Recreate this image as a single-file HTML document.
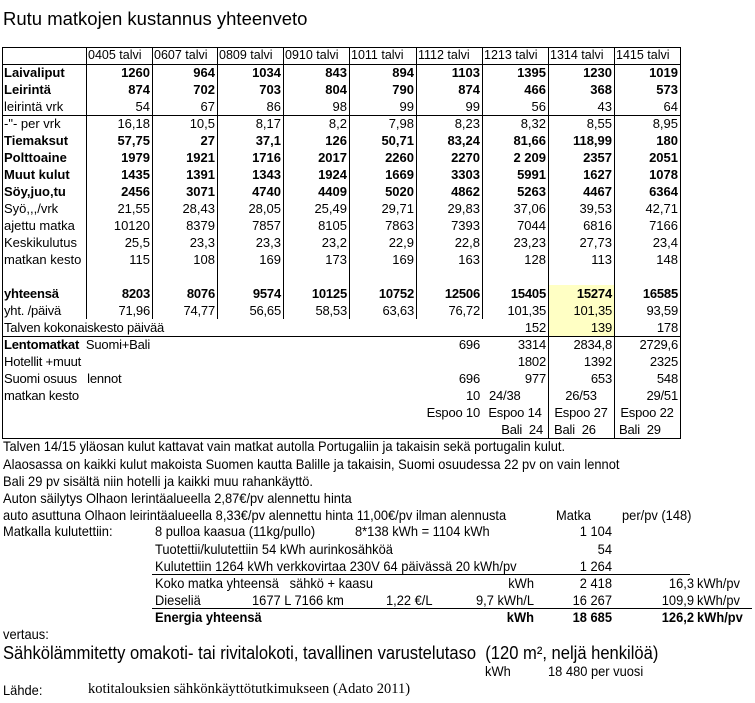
<!DOCTYPE html>
<html><head><meta charset="utf-8">
<style>
*{margin:0;padding:0;box-sizing:border-box}
body{width:755px;height:703px;background:#fff;position:relative;overflow:hidden;font-family:"Liberation Sans",Arial,sans-serif;color:#000}
.t{position:absolute;white-space:nowrap;line-height:17px;height:17px}
.n{font-size:14px;transform:scaleX(0.92);transform-origin:left center}
.r{transform-origin:right center}
table{position:absolute;left:2px;top:47px;border-collapse:collapse;table-layout:fixed;width:678px;font-size:13px}
td{height:17px;line-height:17px;padding:0 2px 0 2px;text-align:right;white-space:nowrap;overflow:visible}
td:first-child{text-align:left}
tr.h td{text-align:left;font-size:12.5px}
tr.b td{font-weight:bold}
tr.m td{font-size:13px;letter-spacing:-0.2px}
.hl{position:absolute;height:1px;background:#000}
.vl{position:absolute;width:1px;background:#000}
</style></head><body>
<div class="t" style="left:3px;top:8px;font-size:18.5px;line-height:22px;height:22px">Rutu matkojen kustannus yhteenveto</div>

<div style="position:absolute;left:549px;top:285px;width:65px;height:51px;background:#ffffc4"></div>

<table>
<colgroup><col style="width:84px"><col style="width:66px"><col style="width:65px"><col style="width:66px"><col style="width:66px"><col style="width:67px"><col style="width:66px"><col style="width:66px"><col style="width:66px"><col style="width:66px"></colgroup>
<tr class="h"><td></td><td>0405 talvi</td><td>0607 talvi</td><td>0809 talvi</td><td>0910 talvi</td><td>1011 talvi</td><td>1112 talvi</td><td>1213 talvi</td><td>1314 talvi</td><td>1415 talvi</td></tr>
<tr class="b"><td>Laivaliput</td><td>1260</td><td>964</td><td>1034</td><td>843</td><td>894</td><td>1103</td><td>1395</td><td>1230</td><td>1019</td></tr>
<tr class="b"><td>Leirintä</td><td>874</td><td>702</td><td>703</td><td>804</td><td>790</td><td>874</td><td>466</td><td>368</td><td>573</td></tr>
<tr><td>leirintä vrk</td><td>54</td><td>67</td><td>86</td><td>98</td><td>99</td><td>99</td><td>56</td><td>43</td><td>64</td></tr>
<tr><td>-"- per vrk</td><td>16,18</td><td>10,5</td><td>8,17</td><td>8,2</td><td>7,98</td><td>8,23</td><td>8,32</td><td>8,55</td><td>8,95</td></tr>
<tr class="b"><td>Tiemaksut</td><td>57,75</td><td>27</td><td>37,1</td><td>126</td><td>50,71</td><td>83,24</td><td>81,66</td><td>118,99</td><td>180</td></tr>
<tr class="b"><td>Polttoaine</td><td>1979</td><td>1921</td><td>1716</td><td>2017</td><td>2260</td><td>2270</td><td>2 209</td><td>2357</td><td>2051</td></tr>
<tr class="b"><td>Muut kulut</td><td>1435</td><td>1391</td><td>1343</td><td>1924</td><td>1669</td><td>3303</td><td>5991</td><td>1627</td><td>1078</td></tr>
<tr class="b"><td>Söy,juo,tu</td><td>2456</td><td>3071</td><td>4740</td><td>4409</td><td>5020</td><td>4862</td><td>5263</td><td>4467</td><td>6364</td></tr>
<tr><td>Syö,,,/vrk</td><td>21,55</td><td>28,43</td><td>28,05</td><td>25,49</td><td>29,71</td><td>29,83</td><td>37,06</td><td>39,53</td><td>42,71</td></tr>
<tr><td>ajettu matka</td><td>10120</td><td>8379</td><td>7857</td><td>8105</td><td>7863</td><td>7393</td><td>7044</td><td>6816</td><td>7166</td></tr>
<tr><td>Keskikulutus</td><td>25,5</td><td>23,3</td><td>23,3</td><td>23,2</td><td>22,9</td><td>22,8</td><td>23,23</td><td>27,73</td><td>23,4</td></tr>
<tr><td>matkan kesto</td><td>115</td><td>108</td><td>169</td><td>173</td><td>169</td><td>163</td><td>128</td><td>113</td><td>148</td></tr>
<tr><td></td><td></td><td></td><td></td><td></td><td></td><td></td><td></td><td></td><td></td></tr>
<tr class="b m"><td>yhteensä</td><td>8203</td><td>8076</td><td>9574</td><td>10125</td><td>10752</td><td>12506</td><td>15405</td><td>15274</td><td>16585</td></tr>
<tr class="m"><td>yht. /päivä</td><td>71,96</td><td>74,77</td><td>56,65</td><td>58,53</td><td>63,63</td><td>76,72</td><td>101,35</td><td>101,35</td><td>93,59</td></tr>
<tr class="m"><td colspan="7">Talven kokonaiskesto päivää</td><td>152</td><td>139</td><td>178</td></tr>
<tr class="m"><td colspan="6"><b>Lentomatkat</b>&nbsp; Suomi+Bali</td><td>696</td><td>3314</td><td>2834,8</td><td>2729,6</td></tr>
<tr class="m"><td colspan="6">Hotellit +muut</td><td></td><td>1802</td><td>1392</td><td>2325</td></tr>
<tr class="m"><td colspan="6">Suomi osuus&nbsp;&nbsp; lennot</td><td>696</td><td>977</td><td>653</td><td>548</td></tr>
<tr class="m"><td colspan="6">matkan kesto</td><td>10</td><td style="text-align:left;padding-left:7px">24/38</td><td style="text-align:center">26/53</td><td>29/51</td></tr>
<tr class="m"><td colspan="6"></td><td>Espoo 10</td><td style="text-align:center">Espoo 14</td><td style="text-align:center">Espoo 27</td><td style="text-align:center">Espoo 22</td></tr>
<tr class="m"><td colspan="6"></td><td></td><td style="padding-right:5px">Bali&nbsp; 24</td><td style="text-align:left;padding-left:6px">Bali&nbsp; 26</td><td style="text-align:left;padding-left:5px">Bali&nbsp; 29</td></tr>
</table>

<div class="hl" style="left:2px;top:47px;width:679px"></div>
<div class="hl" style="left:2px;top:64px;width:679px"></div>
<div class="hl" style="left:2px;top:115px;width:679px"></div>
<div class="hl" style="left:2px;top:336px;width:679px"></div>
<div class="hl" style="left:2px;top:438px;width:679px"></div>
<div class="vl" style="left:2px;top:47px;height:392px"></div>
<div class="vl" style="left:86px;top:47px;height:272px"></div>
<div class="vl" style="left:152px;top:47px;height:272px"></div>
<div class="vl" style="left:217px;top:47px;height:272px"></div>
<div class="vl" style="left:283px;top:47px;height:272px"></div>
<div class="vl" style="left:349px;top:47px;height:272px"></div>
<div class="vl" style="left:416px;top:47px;height:272px"></div>
<div class="vl" style="left:482px;top:47px;height:272px"></div>
<div class="vl" style="left:548px;top:47px;height:392px"></div>
<div class="vl" style="left:614px;top:47px;height:392px"></div>
<div class="vl" style="left:680px;top:47px;height:392px"></div>

<div class="t n" style="left:3px;top:438px">Talven 14/15 yläosan kulut kattavat vain matkat autolla Portugaliin ja takaisin sekä portugalin kulut.</div>
<div class="t n" style="left:3px;top:456px">Alaosassa on kaikki kulut makoista Suomen kautta Balille ja takaisin, Suomi osuudessa 22 pv on vain lennot</div>
<div class="t n" style="left:3px;top:473px">Bali 29 pv sisältä niin hotelli ja kaikki muu rahankäyttö.</div>
<div class="t n" style="left:3px;top:490px">Auton säilytys Olhaon lerintäalueella 2,87€/pv alennettu hinta</div>
<div class="t n" style="left:3px;top:507px">auto asuttuna Olhaon leirintäalueella 8,33€/pv alennettu hinta 11,00€/pv ilman alennusta</div>
<div class="t n" style="left:556px;top:507px">Matka</div>
<div class="t n" style="left:622px;top:507px">per/pv (148)</div>

<div class="t n" style="left:3px;top:523px">Matkalla kulutettiin:</div>
<div class="t n" style="left:155px;top:523px">8 pulloa kaasua (11kg/pullo)</div>
<div class="t n" style="left:355px;top:523px">8*138 kWh = 1104 kWh</div>
<div class="t n r" style="left:540px;top:523px;width:72px;text-align:right">1 104</div>
<div class="t n" style="left:155px;top:541px">Tuotettii/kulutettiin 54 kWh aurinkosähköä</div>
<div class="t n r" style="left:540px;top:541px;width:72px;text-align:right">54</div>
<div class="t n" style="left:155px;top:558px">Kulutettiin 1264 kWh verkkovirtaa 230V 64 päivässä 20 kWh/pv</div>
<div class="t n r" style="left:540px;top:558px;width:72px;text-align:right">1 264</div>
<div class="hl" style="left:152px;top:574px;width:538px"></div>
<div class="t n" style="left:155px;top:575px">Koko matka yhteensä&nbsp;&nbsp; sähkö + kaasu</div>
<div class="t n r" style="left:480px;top:575px;width:54px;text-align:right">kWh</div>
<div class="t n r" style="left:540px;top:575px;width:72px;text-align:right">2 418</div>
<div class="t n r" style="left:620px;top:575px;width:74px;text-align:right">16,3</div>
<div class="t n" style="left:697px;top:575px">kWh/pv</div>
<div class="t n" style="left:155px;top:592px">Dieseliä</div>
<div class="t n" style="left:252px;top:592px">1677 L 7166 km</div>
<div class="t n" style="left:386px;top:592px">1,22 €/L</div>
<div class="t n r" style="left:450px;top:592px;width:84px;text-align:right">9,7 kWh/L</div>
<div class="t n r" style="left:540px;top:592px;width:72px;text-align:right">16 267</div>
<div class="t n r" style="left:620px;top:592px;width:74px;text-align:right">109,9</div>
<div class="t n" style="left:697px;top:592px">kWh/pv</div>
<div class="hl" style="left:152px;top:608px;width:600px"></div>
<div class="t n" style="left:155px;top:609px;font-weight:bold">Energia yhteensä</div>
<div class="t n r" style="left:480px;top:609px;width:54px;text-align:right;font-weight:bold">kWh</div>
<div class="t n r" style="left:540px;top:609px;width:72px;text-align:right;font-weight:bold">18 685</div>
<div class="t n r" style="left:620px;top:609px;width:74px;text-align:right;font-weight:bold">126,2</div>
<div class="t n" style="left:697px;top:609px;font-weight:bold">kWh/pv</div>

<div class="t n" style="left:3px;top:626px">vertaus:</div>
<div class="t n" style="left:3px;top:643px;font-size:18px;line-height:20px;height:20px">Sähkölämmitetty omakoti- tai rivitalokoti, tavallinen varustelutaso&nbsp; (120 m², neljä henkilöä)</div>
<div class="t n" style="left:485px;top:663px">kWh</div>
<div class="t n" style="left:548px;top:663px">18 480 per vuosi</div>
<div class="t n" style="left:3px;top:682px">Lähde:</div>
<div class="t" style="left:88px;top:681px;font-family:'Liberation Serif',serif;font-size:14.5px">kotitalouksien sähkönkäyttötutkimukseen (Adato 2011)</div>
</body></html>
